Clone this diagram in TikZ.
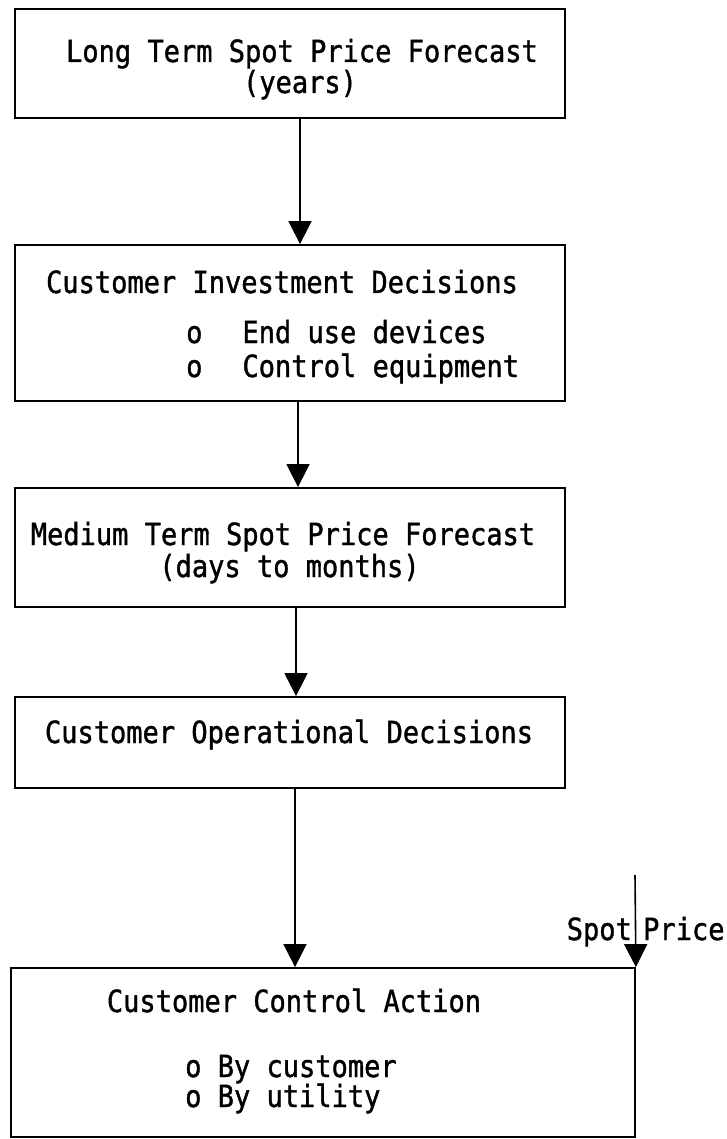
\documentclass[tikz,border=0pt]{standalone}
\usepackage{fontspec}
\newfontfamily\typed[FakeStretch=0.886,FakeBold=1.2]{DejaVu Sans Mono}
\usetikzlibrary{arrows.meta}

\begin{document}
\begin{tikzpicture}[
    x=1pt, y=-1pt,
    box/.style={rectangle, draw=black, line width=1.8pt, minimum width=550pt, inner sep=0pt},
    txt/.style={anchor=base, inner sep=0pt, font=\typed\fontsize{30.5}{32}\selectfont},
    item/.style={txt, anchor=base west},
    flow/.style={line width=1.6pt, -{Triangle[length=23pt,width=23pt]}},
]
\useasboundingbox (0,0) rectangle (726,1139);

% boxes
\node[box, minimum height=109pt] (long) at (290,63.5) {};
\node[box, minimum height=156pt] (invest) at (290,323) {};
\node[box, minimum height=119pt] (medium) at (290,547.5) {};
\node[box, minimum height=91pt] (oper) at (290,742.5) {};
\node[box, minimum height=169pt, minimum width=624pt] (control) at (323,1052.5) {};

% texts
\node[txt] (longT) at (302,62) {Long Term Spot Price Forecast};
\node[txt] (longY) at (300,93) {(years)};
\node[txt] (investT) at (282,293) {Customer Investment Decisions};
\node[item] (investA) at (186,343) {o\hspace{40pt}End use devices};
\node[item] (investB) at (186,377) {o\hspace{40pt}Control equipment};
\node[txt] (mediumT) at (283,545) {Medium Term Spot Price Forecast};
\node[txt] (mediumD) at (289.5,577) {(days to months)};
\node[txt] (operT) at (289,743) {Customer Operational Decisions};
\node[txt] (controlT) at (294,1012) {Customer Control Action};
\node[item] (controlA) at (185,1077) {o By customer};
\node[item] (controlB) at (185,1107) {o By utility};
\node[txt, anchor=base east] (spotL) at (632,940) {Spot};
\node[txt, anchor=base west] (spotR) at (643,940) {Price};

% arrows
\draw[flow] ([xshift=10pt]long.south) -- ([xshift=10pt]invest.north);
\draw[flow] ([xshift=8pt]invest.south) -- ([xshift=8pt]medium.north);
\draw[flow] ([xshift=6pt]medium.south) -- ([xshift=6pt]oper.north);
\draw[flow] ([xshift=5pt]oper.south) -- ([xshift=-28pt]control.north);
\coordinate (spot) at (635,875);
\draw[flow] (spot) -- (control.north east);

\end{tikzpicture}
\end{document}
